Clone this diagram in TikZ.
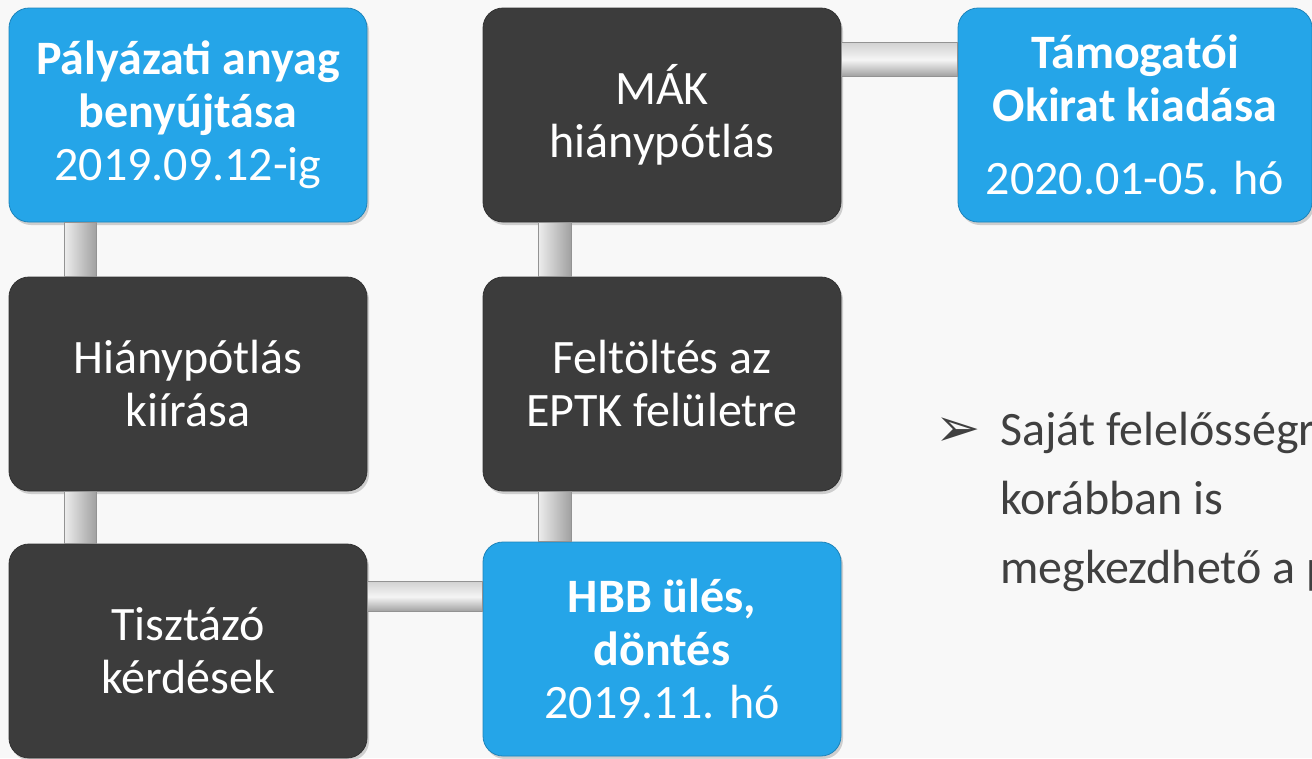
\documentclass[tikz,border=0pt]{standalone}
\usepackage{fontspec}
\setmainfont{Carlito}
\newfontfamily\symfont{DejaVu Sans}
\usepackage{tikz}
\usetikzlibrary{shadows}

\definecolor{boxblue}{HTML}{25A5E8}
\definecolor{boxdark}{HTML}{3C3C3C}
\definecolor{pagebg}{HTML}{F8F8F8}
\definecolor{notegray}{HTML}{404040}

\begin{document}
\begin{tikzpicture}[x=1pt,y=-1pt]
	\tikzset{
		card/.style={rounded corners=20pt, minimum width=358pt, minimum height=214pt, inner sep=0pt, align=center, text=white,
			font=\fontsize{48}{53}\selectfont, drop shadow={opacity=0.35,shadow xshift=2pt,shadow yshift=-3pt}},
		bluecard/.style={card, fill=boxblue, draw=boxblue!80!black, line width=0.8pt},
		darkcard/.style={card, fill=boxdark, draw=black!80, line width=0.8pt},
		vbar/.style={left color=gray!15, right color=gray!75, draw=gray!85, line width=0.6pt},
		hbar/.style={top color=gray!35, bottom color=gray!75, middle color=gray!8, draw=gray!85, line width=0.6pt}
	}
	\useasboundingbox (0,0) rectangle (1312,758);
	\fill[pagebg] (0,0) rectangle (1312,758);
	\clip (0,0) rectangle (1312,758);
	\node[bluecard] (palyazat) at (188,115) {\textbf{Pályázati anyag}\\\textbf{benyújtása}\\2019.09.12-ig};
	\node[darkcard] (hianypotlas) at (188,384) {Hiánypótlás\\kiírása};
	\node[darkcard] (tisztazo) at (188,651) {Tisztázó\\kérdések};
	\node[darkcard] (mak) at (662,115) {MÁK\\hiánypótlás};
	\node[darkcard] (feltoltes) at (662,384) {Feltöltés az\\EPTK felületre};
	\node[bluecard] (hbb) at (662,649) {\textbf{HBB ülés,}\\\textbf{döntés}\\2019.11. hó};
	\node[bluecard, minimum width=354pt] (tamogatoi) at (1135,115) {\textbf{Támogatói}\\\textbf{Okirat kiadása}\\[20pt]2020.01-05. hó};
	% connectors
	\shade[vbar] ([xshift=56pt]palyazat.south west) rectangle ([xshift=88pt]hianypotlas.north west);
	\shade[vbar] ([xshift=56pt]hianypotlas.south west) rectangle ([xshift=88pt]tisztazo.north west);
	\shade[vbar] ([xshift=56pt]mak.south west) rectangle ([xshift=89pt]feltoltes.north west);
	\shade[vbar] ([xshift=56pt]feltoltes.south west) rectangle ([xshift=89pt]hbb.north west);
	\shade[hbar] ([yshift=-38pt]tisztazo.north east) rectangle ([yshift=-70pt]hbb.north west);
	\shade[hbar] ([yshift=-35pt]mak.north east) rectangle ([yshift=-69pt]tamogatoi.north west);
	% note
	\node[anchor=base, text=notegray, font=\symfont\fontsize{54}{54}\selectfont] (pointer) at (958,446) {➢};
	\node[anchor=base west, text=notegray, align=left, inner sep=0pt, font=\fontsize{48}{69}\selectfont] (note) at (1000,583) {Saját felelősségr\\korábban is\\megkezdhető a p};
\end{tikzpicture}
\end{document}
